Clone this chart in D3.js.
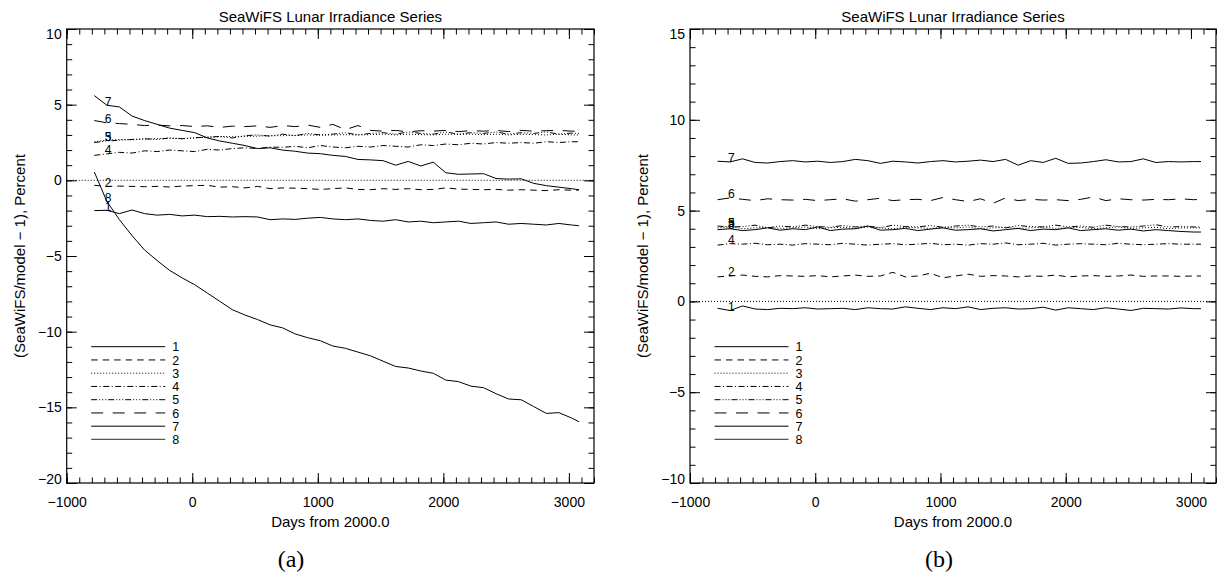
<!DOCTYPE html>
<html>
<head>
<meta charset="utf-8">
<script src="https://cdn.jsdelivr.net/npm/d3@7"></script>
<style>
  body { margin: 0; background: #fff; }
  text { font-family: "Liberation Sans", Arial, sans-serif; fill: #000; }
  .axis path.domain { display: none; }
  .axis line { stroke: #000; stroke-width: 1; }
  .axis text { font-size: 14px; }
</style>
</head>
<body>
<svg id="chart" width="1218" height="575"></svg>
<script>
// ---- data ----
const days = [-780, -680, -580, -480, -380, -280, -180, -80, 20, 120, 220, 320, 420, 520,
  620, 720, 820, 920, 1020, 1120, 1220, 1320, 1420, 1520, 1620, 1720, 1820, 1920, 2020,
  2120, 2220, 2320, 2420, 2520, 2620, 2720, 2820, 2920, 3020, 3080];

// panel (a)
const a1 = [-2.0, -1.98, -2.2, -1.96, -2.2, -2.3, -2.25, -2.35, -2.3, -2.4, -2.38, -2.42, -2.4, -2.42,
  -2.6, -2.55, -2.58, -2.5, -2.45, -2.55, -2.6, -2.55, -2.65, -2.7, -2.6, -2.75, -2.7, -2.8, -2.75,
  -2.7, -2.85, -2.8, -2.75, -2.9, -2.85, -2.9, -2.95, -2.85, -2.95, -3.0];
const a2 = [-0.33, -0.4, -0.38, -0.4, -0.42, -0.4, -0.44, -0.38, -0.35, -0.33, -0.45, -0.42, -0.5, -0.4,
  -0.55, -0.5, -0.52, -0.55, -0.6, -0.55, -0.5, -0.6, -0.62, -0.55, -0.6, -0.55, -0.62, -0.6, -0.5,
  -0.58, -0.6, -0.62, -0.6, -0.65, -0.62, -0.65, -0.68, -0.62, -0.65, -0.65];
const a3 = [2.55, 2.65, 2.7, 2.68, 2.72, 2.75, 2.78, 2.75, 2.8, 2.85, 2.88, 2.9, 2.9, 2.92,
  2.95, 2.95, 2.97, 3.0, 2.98, 3.0, 3.02, 3.0, 3.02, 3.05, 3.0, 3.05, 3.02, 3.0, 3.05,
  3.03, 3.05, 3.02, 3.05, 3.0, 3.05, 3.02, 3.0, 3.05, 3.0, 3.0];
const a4 = [1.65, 1.75, 1.85, 1.8, 1.95, 1.9, 2.0, 1.95, 1.9, 2.05, 2.0, 2.1, 2.15, 2.1,
  2.2, 2.18, 2.25, 2.15, 2.3, 2.2, 2.15, 2.25, 2.2, 2.3, 2.25, 2.2, 2.35, 2.3, 2.4,
  2.35, 2.45, 2.4, 2.5, 2.45, 2.5, 2.45, 2.55, 2.5, 2.55, 2.55];
const a5 = [2.5, 2.6, 2.65, 2.7, 2.75, 2.7, 2.8, 2.75, 2.82, 2.85, 2.9, 2.8, 2.95, 3.0,
  2.92, 3.05, 2.95, 3.1, 3.0, 3.05, 3.15, 3.0, 3.1, 3.15, 3.05, 3.2, 3.1, 3.05, 3.2,
  3.05, 3.15, 3.1, 3.2, 3.05, 3.15, 3.1, 3.2, 3.05, 3.12, 3.1];
const a6 = [3.95, 3.8, 3.75, 3.7, 3.62, 3.65, 3.6, 3.62, 3.55, 3.6, 3.5, 3.58, 3.55, 3.6,
  3.5, 3.62, 3.55, 3.65, 3.5, 3.7, 3.35, 3.62, 3.3, 3.25, 3.3, 3.2, 3.28, 3.25, 3.3,
  3.22, 3.28, 3.25, 3.3, 3.22, 3.3, 3.25, 3.28, 3.3, 3.25, 3.25];
const a7 = [5.6, 4.96, 4.85, 4.25, 3.95, 3.7, 3.45, 3.3, 3.15, 2.8, 2.6, 2.45, 2.3, 2.1,
  2.15, 2.0, 1.92, 1.8, 1.76, 1.65, 1.58, 1.38, 1.35, 1.3, 1.0, 1.25, 0.95, 1.2, 0.5,
  0.4, 0.42, 0.44, 0.12, 0.08, 0.1, -0.2, -0.35, -0.45, -0.55, -0.62];
const a8 = [0.55, -1.4, -2.6, -3.65, -4.6, -5.3, -5.95, -6.45, -6.9, -7.45, -8.0, -8.55, -8.9, -9.2,
  -9.55, -9.75, -10.15, -10.4, -10.6, -10.95, -11.1, -11.35, -11.6, -11.95, -12.3, -12.4, -12.6, -12.75, -13.2,
  -13.3, -13.6, -13.7, -14.1, -14.45, -14.5, -14.95, -15.4, -15.35, -15.7, -15.95];

// panel (b)
const b1 = [-0.38, -0.5, -0.25, -0.42, -0.45, -0.38, -0.4, -0.35, -0.42, -0.4, -0.38, -0.45, -0.35, -0.4,
  -0.42, -0.3, -0.38, -0.45, -0.35, -0.4, -0.3, -0.45, -0.38, -0.35, -0.42, -0.4, -0.32, -0.48, -0.35,
  -0.4, -0.45, -0.35, -0.42, -0.5, -0.38, -0.4, -0.42, -0.36, -0.4, -0.4];
const b2 = [1.35, 1.4, 1.45, 1.38, 1.35, 1.42, 1.4, 1.38, 1.42, 1.35, 1.4, 1.45, 1.38, 1.4,
  1.6, 1.35, 1.4, 1.55, 1.3, 1.4, 1.5, 1.38, 1.42, 1.4, 1.35, 1.4, 1.38, 1.45, 1.35,
  1.4, 1.42, 1.38, 1.4, 1.45, 1.38, 1.4, 1.4, 1.38, 1.4, 1.4];
const b3 = [4.05, 4.1, 4.0, 4.05, 4.08, 4.02, 4.05, 4.1, 4.0, 4.05, 4.08, 4.02, 4.1, 4.05,
  4.0, 4.08, 4.05, 4.02, 4.08, 4.05, 4.1, 4.0, 4.05, 4.08, 4.02, 4.05, 4.1, 4.02, 4.05,
  4.08, 4.0, 4.05, 4.1, 4.02, 4.05, 4.08, 4.0, 4.05, 4.05, 4.05];
const b4 = [3.1, 3.18, 3.15, 3.2, 3.12, 3.15, 3.1, 3.18, 3.15, 3.12, 3.2, 3.15, 3.1, 3.15,
  3.18, 3.12, 3.15, 3.2, 3.12, 3.15, 3.1, 3.18, 3.15, 3.22, 3.12, 3.15, 3.2, 3.1, 3.15,
  3.18, 3.15, 3.12, 3.2, 3.15, 3.12, 3.15, 3.18, 3.15, 3.15, 3.15];
const b5 = [4.15, 4.1, 4.12, 4.2, 4.05, 4.15, 4.1, 4.2, 4.12, 4.08, 4.18, 4.1, 4.15, 4.05,
  4.2, 4.12, 4.1, 4.18, 4.08, 4.15, 4.2, 4.1, 4.15, 4.05, 4.18, 4.12, 4.1, 4.2, 4.1,
  4.15, 4.08, 4.2, 4.12, 4.1, 4.15, 4.22, 4.1, 4.12, 4.1, 4.1];
const b6 = [5.6, 5.7, 5.62, 5.55, 5.65, 5.6, 5.58, 5.62, 5.55, 5.6, 5.65, 5.52, 5.6, 5.68,
  5.55, 5.6, 5.62, 5.55, 5.72, 5.6, 5.5, 5.65, 5.4, 5.7, 5.55, 5.62, 5.58, 5.6, 5.55,
  5.62, 5.75, 5.55, 5.65, 5.6, 5.58, 5.62, 5.6, 5.65, 5.6, 5.62];
const b7 = [7.72, 7.68, 7.85, 7.65, 7.62, 7.7, 7.75, 7.68, 7.72, 7.65, 7.7, 7.82, 7.75, 7.6,
  7.72, 7.68, 7.62, 7.7, 7.75, 7.68, 7.72, 7.78, 7.7, 7.82, 7.5, 7.75, 7.65, 7.88, 7.6,
  7.62, 7.7, 7.8, 7.68, 7.7, 7.85, 7.65, 7.7, 7.68, 7.7, 7.7];
const b8 = [3.95, 4.0, 3.9, 3.95, 4.05, 3.92, 4.0, 3.95, 4.1, 3.9, 3.98, 4.0, 4.15, 3.92,
  3.95, 4.02, 3.9, 3.98, 4.05, 3.92, 3.95, 4.0, 3.88, 3.95, 4.02, 3.9, 3.98, 3.95, 4.05,
  3.9, 3.95, 4.0, 3.92, 3.98, 3.88, 3.95, 3.9, 3.85, 3.82, 3.82];

const seriesNames = ["1", "2", "3", "4", "5", "6", "7", "8"];
const xTicks = [-1000, 0, 1000, 2000, 3000];
const yTicksA = [-20, -15, -10, -5, 0, 5, 10];
const yTicksB = [-10, -5, 0, 5, 10, 15];
const titleText = "SeaWiFS Lunar Irradiance Series";
const xLabel = "Days from 2000.0";
const yLabel = "(SeaWiFS/model \u2212 1), Percent";

// IDL linestyles
const dashes = {
  "1": null, "2": "6.5,5", "3": "1,2", "4": "6,2.5,1,2.5",
  "5": "6,2,1,2,1,2,1,2", "6": "12,9.5", "7": null, "8": null
};

const svg = d3.select("#chart");
const fmt = (v) => (v < 0 ? "\u2212" + Math.abs(v) : String(v));

function drawPanel(cfg) {
  const { left, right, top, bottom, yDomain, yTicks, series, caption, captionX } = cfg;
  const x = d3.scaleLinear().domain([-1000, 3200]).range([left, right]);
  const y = d3.scaleLinear().domain(yDomain).range([bottom, top]);
  const g = svg.append("g");

  const xMinor = d3.range(-1000, 3201, 100);
  const yMinor = d3.range(yDomain[0], yDomain[1] + 0.5, 1);

  // minor ticks on all four sides
  g.append("g").attr("class", "axis").attr("transform", `translate(0,${bottom})`)
    .call(d3.axisBottom(x).tickValues(xMinor).tickSize(-5.5).tickSizeOuter(0).tickFormat(""));
  g.append("g").attr("class", "axis").attr("transform", `translate(0,${top})`)
    .call(d3.axisTop(x).tickValues(xMinor).tickSize(-5.5).tickSizeOuter(0).tickFormat(""));
  g.append("g").attr("class", "axis").attr("transform", `translate(${left},0)`)
    .call(d3.axisLeft(y).tickValues(yMinor).tickSize(-5.5).tickSizeOuter(0).tickFormat(""));
  g.append("g").attr("class", "axis").attr("transform", `translate(${right},0)`)
    .call(d3.axisRight(y).tickValues(yMinor).tickSize(-5.5).tickSizeOuter(0).tickFormat(""));

  // major ticks
  g.append("g").attr("class", "axis").attr("transform", `translate(0,${bottom})`)
    .call(d3.axisBottom(x).tickValues(xTicks).tickSize(-10).tickSizeOuter(0).tickPadding(14).tickFormat(fmt));
  g.append("g").attr("class", "axis").attr("transform", `translate(0,${top})`)
    .call(d3.axisTop(x).tickValues(xTicks).tickSize(-10).tickSizeOuter(0).tickFormat(""));
  const yAx = g.append("g").attr("class", "axis").attr("transform", `translate(${left},0)`)
    .call(d3.axisLeft(y).tickValues(yTicks).tickSize(-10).tickSizeOuter(0).tickPadding(5).tickFormat(fmt));
  g.append("g").attr("class", "axis").attr("transform", `translate(${right},0)`)
    .call(d3.axisRight(y).tickValues(yTicks).tickSize(-10).tickSizeOuter(0).tickFormat(""));
  // end labels sit inside the frame height, like IDL does
  yAx.selectAll(".tick text")
    .attr("dy", (d) => (d === yDomain[1] ? "0.71em" : d === yDomain[0] ? "0em" : "0.32em"));

  // frame
  g.append("rect")
    .attr("x", left).attr("y", top)
    .attr("width", right - left).attr("height", bottom - top)
    .attr("fill", "none").attr("stroke", "#000").attr("stroke-width", 1.2);

  // zero reference
  g.append("line")
    .attr("x1", left).attr("x2", right)
    .attr("y1", y(0)).attr("y2", y(0))
    .attr("stroke", "#000").attr("stroke-width", 1).attr("stroke-dasharray", "1,2");

  const line = d3.line().x((d, i) => x(days[i])).y((d) => y(d));

  g.selectAll(".series")
    .data(series)
    .enter()
    .append("path")
    .attr("class", "series")
    .attr("d", (d) => line(d))
    .attr("fill", "none")
    .attr("stroke", "#000")
    .attr("stroke-width", 1)
    .attr("stroke-dasharray", (d, i) => dashes[seriesNames[i]]);

  // number tags near the start of each series
  g.selectAll(".tag")
    .data(series)
    .enter()
    .append("text")
    .attr("class", "tag")
    .attr("x", x(days[1] + 10))
    .attr("y", (d) => y(d[1]) + 0.5)
    .attr("text-anchor", "middle")
    .style("font-size", "12px")
    .text((d, i) => seriesNames[i]);

  // legend
  const lg = g.append("g").attr("transform", `translate(${left + 24.5},346.7)`);
  seriesNames.forEach((name, i) => {
    lg.append("line")
      .attr("x1", 0).attr("x2", 74)
      .attr("y1", i * 13.25).attr("y2", i * 13.25)
      .attr("stroke", name === "8" ? "#555" : "#000")
      .attr("stroke-width", name === "8" ? 1.3 : 1)
      .attr("stroke-dasharray", dashes[name]);
    lg.append("text")
      .attr("x", 81).attr("y", i * 13.25 + 4.6)
      .style("font-size", "12.5px")
      .text(name);
  });

  const cx = (left + right) / 2;
  g.append("text").attr("x", cx).attr("y", 21.5)
    .attr("text-anchor", "middle").style("font-size", "15px").text(titleText);
  g.append("text").attr("x", cx).attr("y", 527)
    .attr("text-anchor", "middle").style("font-size", "15px").text(xLabel);
  g.append("text")
    .attr("transform", `translate(${left - 42},${(top + bottom) / 2}) rotate(-90)`)
    .attr("text-anchor", "middle").style("font-size", "15px").text(yLabel);
  g.append("text").attr("x", captionX).attr("y", 567)
    .attr("text-anchor", "middle")
    .style("font-family", "'Liberation Serif', 'DejaVu Serif', serif")
    .style("font-size", "24px")
    .text(caption);
}

drawPanel({
  left: 66.7, right: 594, top: 29, bottom: 483,
  yDomain: [-20, 10], yTicks: yTicksA,
  series: [a1, a2, a3, a4, a5, a6, a7, a8],
  caption: "(a)", captionX: 291
});
drawPanel({
  left: 690, right: 1216, top: 29, bottom: 483,
  yDomain: [-10, 15], yTicks: yTicksB,
  series: [b1, b2, b3, b4, b5, b6, b7, b8],
  caption: "(b)", captionX: 939
});
</script>
</body>
</html>
